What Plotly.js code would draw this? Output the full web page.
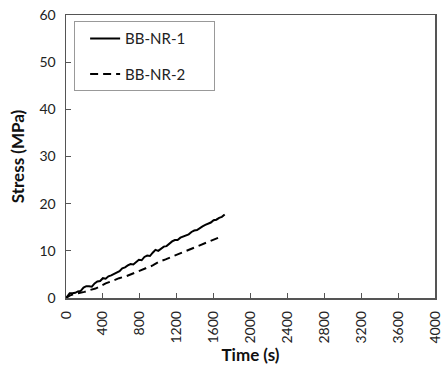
<!DOCTYPE html>
<html>
<head>
<meta charset="utf-8">
<script src="https://cdn.plot.ly/plotly-3.0.1.min.js"></script>
<style>html,body{margin:0;padding:0;background:#fff;}#chart{width:445px;height:365px;}</style>
</head>
<body>
<div id="chart"></div>
<script>
// Stress–time records of the two BB-NR specimens
const timeNR1 = [0, 20, 40, 70, 100, 130, 160, 190, 220, 250, 280, 310, 340, 370, 400, 430, 460, 490, 520, 550, 580, 610, 640, 670, 700, 730, 760, 790, 820, 850, 880, 910, 940, 970, 1000, 1030, 1060, 1090, 1120, 1150, 1180, 1210, 1240, 1270, 1300, 1330, 1360, 1390, 1420, 1450, 1480, 1510, 1540, 1570, 1600, 1630, 1660, 1690, 1720];
const stressNR1 = [0, 0.6, 1.0, 1.0, 1.1, 1.4, 1.5, 2.2, 2.5, 2.5, 2.4, 3.1, 3.5, 3.6, 4.2, 4.1, 4.6, 4.8, 5.1, 5.5, 5.7, 6.3, 6.5, 6.9, 7.2, 7.1, 7.7, 8.1, 8.0, 8.7, 9.0, 8.9, 9.6, 10.2, 10.0, 10.5, 10.9, 11.0, 11.6, 12.0, 12.3, 12.3, 12.8, 13.0, 13.3, 13.5, 14.0, 14.3, 14.4, 14.9, 15.2, 15.5, 15.8, 16.0, 16.5, 16.6, 17.0, 17.2, 17.7];

const timeNR2 = [0, 40, 80, 140, 200, 260, 320, 380, 430, 500, 575, 650, 719, 790, 864, 940, 1008, 1080, 1153, 1225, 1297, 1370, 1442, 1515, 1586, 1630, 1666];
const stressNR2 = [0, 0.5, 0.8, 1.0, 1.3, 1.7, 2.0, 2.6, 3.1, 3.6, 4.2, 4.6, 5.2, 5.8, 6.3, 6.9, 7.7, 8.2, 8.8, 9.3, 9.9, 10.5, 11.2, 11.8, 12.3, 12.6, 12.9];

const seriesNames = ['BB-NR-1', 'BB-NR-2'];
const xTickVals = [0, 400, 800, 1200, 1600, 2000, 2400, 2800, 3200, 3600, 4000];
const yTickVals = [0, 10, 20, 30, 40, 50, 60];

const fontFamily = 'Lato, "Open Sans", "Liberation Sans", sans-serif';
// trailing non-breaking spaces widen the legend box on the right
const legendPad = '\u00a0'.repeat(6);

const traces = [
  {
    x: timeNR1, y: stressNR1, name: seriesNames[0] + legendPad, mode: 'lines',
    line: {color: '#000000', width: 2}, legendgroup: 'a'
  },
  {
    x: timeNR2, y: stressNR2, name: seriesNames[1] + legendPad, mode: 'lines',
    line: {color: '#000000', width: 2, dash: '8px,5px'}, legendgroup: 'b'
  }
];

const axisCommon = {
  showgrid: false, zeroline: false, showline: true, mirror: true,
  linecolor: '#555555', linewidth: 1.5,
  ticks: 'inside', ticklen: 5, tickwidth: 1, tickcolor: '#555555',
  ticklabelstandoff: 6,
  tickfont: {family: fontFamily, size: 14, color: '#222222'}
};

const layout = {
  width: 445, height: 365,
  margin: {l: 66, r: 10, t: 15, b: 67},
  paper_bgcolor: '#ffffff', plot_bgcolor: '#ffffff',
  showlegend: true,
  legend: {
    x: 0.022, y: 0.978, xanchor: 'left', yanchor: 'top',
    bordercolor: '#999999', borderwidth: 1, bgcolor: '#ffffff',
    font: {family: fontFamily, size: 15, color: '#222222'},
    traceorder: 'grouped', tracegroupgap: 13,
    indentation: 10
  },
  xaxis: Object.assign({}, axisCommon, {
    range: [0, 4000], tickvals: xTickVals, tickangle: -90,
    title: {text: '<b>Time (s)</b>', font: {family: fontFamily, size: 17, color: '#111111'}, standoff: 2}
  }),
  yaxis: Object.assign({}, axisCommon, {
    range: [0, 60], tickvals: yTickVals,
    title: {text: '<b>Stress (MPa)</b>', font: {family: fontFamily, size: 17, color: '#111111'}, standoff: 10}
  })
};

Plotly.newPlot('chart', traces, layout, {displayModeBar: false, staticPlot: true});
</script>
</body>
</html>
